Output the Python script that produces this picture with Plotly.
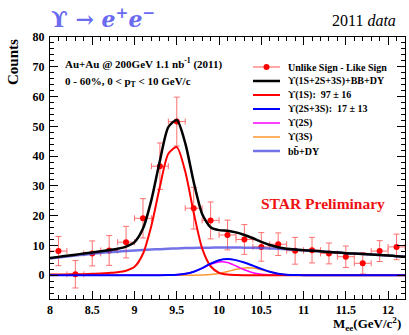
import plotly.graph_objects as go

# ---- measured dielectron spectrum (unlike sign - like sign), 0.2 GeV/c^2 bins ----
mass_bins = [8.1, 8.3, 8.5, 8.7, 8.9, 9.1, 9.3, 9.5, 9.7, 9.9, 10.1,
             10.3, 10.5, 10.7, 10.9, 11.1, 11.3, 11.5, 11.7, 11.9, 12.1]
counts = [8.1, 0.3, 7.3, 8.3, 11.1, 19.1, 36.6, 51.6, 22.5, 18.4, 13.5,
          12.0, 9.5, 10.4, 8.2, 8.4, 7.3, 6.2, 4.0, 8.1, 9.5]
counts_err = [4.9, 4.6, 4.2, 5.0, 5.3, 6.6, 7.8, 8.2, 7.0, 6.2, 5.0,
              5.0, 4.8, 3.8, 4.5, 4.3, 3.5, 3.6, 3.6, 3.5, 4.3]
bin_half_width = 0.1

# ---- fit components sampled along the mass axis ----
fit_mass = [8.0, 8.1, 8.2, 8.3, 8.4, 8.5, 8.6, 8.7, 8.8, 8.9,
            9.0, 9.1, 9.2, 9.3, 9.4, 9.5, 9.6, 9.7, 9.8, 9.9,
            10.0, 10.1, 10.2, 10.3, 10.4, 10.5, 10.6, 10.7, 10.8, 10.9,
            11.0, 11.1, 11.2, 11.3, 11.4, 11.5, 11.6, 11.7, 11.8, 11.9,
            12.0, 12.1, 12.2]
fit_total = [5.8, 6.15, 6.55, 6.9, 7.25, 7.65, 8.0, 8.45, 8.9, 9.6,
             11.1, 15.65, 25.3, 38.45, 49.73, 52.13, 44.35, 31.32, 20.57, 16.12,
             15.14, 14.95, 14.39, 13.5, 12.4, 11.2, 10.15, 9.36, 8.88, 8.6,
             8.4, 8.2, 8.0, 7.8, 7.6, 7.4, 7.25, 7.1, 6.95, 6.8,
             6.6, 6.4, 6.2]
fit_1s = [0.2, 0.2, 0.25, 0.3, 0.35, 0.45, 0.55, 0.75, 1.0, 1.5,
          2.8, 7.2, 16.7, 29.7, 40.8, 43.0, 34.8, 21.0, 9.0, 3.0,
          0.8, 0.2, 0.05, 0, 0, 0, 0, 0, 0, 0,
          0, 0, 0, 0, 0, 0, 0, 0, 0, 0,
          0, 0, 0]
fit_2s3s = [0, 0, 0, 0, 0, 0, 0, 0, 0, 0,
            0, 0, 0, 0, 0.03, 0.13, 0.45, 1.17, 2.37, 3.87,
            5.04, 5.45, 5.06, 4.25, 3.2, 2.1, 1.15, 0.51, 0.18, 0.05,
            0, 0, 0, 0, 0, 0, 0, 0, 0, 0,
            0, 0, 0]
fit_2s = [0, 0, 0, 0, 0, 0, 0, 0, 0, 0,
          0, 0, 0, 0, 0.03, 0.13, 0.45, 1.15, 2.3, 3.65,
          4.45, 4.23, 3.1, 1.8, 0.81, 0.28, 0.08, 0.02, 0, 0,
          0, 0, 0, 0, 0, 0, 0, 0, 0, 0,
          0, 0, 0]
fit_3s = [0, 0, 0, 0, 0, 0, 0, 0, 0, 0,
          0, 0, 0, 0, 0, 0, 0, 0.015, 0.07, 0.22,
          0.59, 1.22, 1.96, 2.45, 2.39, 1.82, 1.07, 0.49, 0.18, 0.05,
          0, 0, 0, 0, 0, 0, 0, 0, 0, 0,
          0, 0, 0]
fit_bb_dy = [5.6, 5.95, 6.3, 6.6, 6.9, 7.2, 7.45, 7.7, 7.9, 8.1,
             8.3, 8.45, 8.6, 8.75, 8.9, 9.0, 9.1, 9.15, 9.2, 9.25,
             9.3, 9.3, 9.28, 9.25, 9.2, 9.1, 9.0, 8.85, 8.7, 8.55,
             8.4, 8.2, 8.0, 7.8, 7.6, 7.4, 7.25, 7.1, 6.95, 6.8,
             6.6, 6.4, 6.2]

legend_labels = [
    "Unlike Sign - Like Sign",
    "ϒ(1S+2S+3S)+BB+DY",
    "ϒ(1S):  97 ± 16",
    "ϒ(2S+3S):  17 ± 13",
    "ϒ(2S)",
    "ϒ(3S)",
    "bb\u0304+DY",
]

RED = "#ff0000"
ERR_RED = "#ff7070"
BLACK = "#000000"
BLUE = "#0000ff"
MAGENTA = "#ff00ff"
ORANGE = "#ff9933"
BKG = "rgba(80,80,225,0.8)"
legend_colors = [ERR_RED, BLACK, RED, BLUE, MAGENTA, ORANGE, BKG]
legend_widths = [1.2, 2.5, 2, 2, 1.5, 1.5, 2.5]

SERIF = "Liberation Serif"

fig = go.Figure()

fig.add_trace(go.Scatter(
    x=mass_bins, y=counts, mode="markers",
    marker=dict(color=RED, size=6),
    error_y=dict(type="data", array=counts_err, color=ERR_RED, thickness=1, width=3),
    error_x=dict(type="constant", value=bin_half_width, color=ERR_RED, thickness=1, width=3),
    showlegend=False,
))

curve_specs = [
    (fit_bb_dy, BKG, 2.5),
    (fit_3s, ORANGE, 1.5),
    (fit_2s, MAGENTA, 1.5),
    (fit_1s, RED, 2),
    (fit_2s3s, BLUE, 2),
    (fit_total, BLACK, 2.5),
]
for yvals, color, width in curve_specs:
    fig.add_trace(go.Scatter(
        x=fit_mass, y=yvals, mode="lines",
        line=dict(color=color, width=width, shape="spline", smoothing=0.7),
        showlegend=False, hoverinfo="skip",
    ))

# plot area in pixels: left 50, right 405, top 37, bottom 299
PL, PR, PT, PB = 50, 405, 37, 299


def px(xp):
    return (xp - PL) / (PR - PL)


def py(yp):
    return (PB - yp) / (PB - PT)


shapes = []
annotations = []

# hand-drawn legend box content
row_y = [67, 81, 95, 109, 123, 137, 151]
for label, color, width, yy in zip(legend_labels, legend_colors, legend_widths, row_y):
    shapes.append(dict(type="line", xref="paper", yref="paper",
                       x0=px(253), x1=px(280), y0=py(yy), y1=py(yy),
                       line=dict(color=color, width=width)))
    annotations.append(dict(text=label, xref="paper", yref="paper",
                            x=px(286), y=py(yy), xanchor="left", yanchor="middle",
                            showarrow=False,
                            font=dict(family=SERIF, size=10, color="black", weight="bold")))
shapes.append(dict(type="circle", xref="paper", yref="paper",
                   xsizemode="pixel", ysizemode="pixel",
                   xanchor=px(266.5), yanchor=py(row_y[0]),
                   x0=-3, x1=3, y0=-3, y1=3,
                   fillcolor=RED, line=dict(color=RED, width=0)))

text_font = dict(family=SERIF, size=11, color="black", weight="bold")
annotations += [
    dict(text="Au+Au @ 200GeV 1.1 nb<sup>-1</sup> (2011)", x=px(63), y=py(63),
         xanchor="left", yanchor="middle", font=text_font),
    dict(text="0 - 60%, 0 &lt; p<sub>T</sub> &lt; 10 GeV/c", x=px(63), y=py(82),
         xanchor="left", yanchor="middle", font=text_font),
    dict(text="STAR Preliminary", x=px(323), y=py(203), xanchor="center", yanchor="middle",
         font=dict(family=SERIF, size=15.5, color="#ee1111", weight="bold")),
    dict(text="ϒ → <i>e</i><sup>+</sup><i>e</i><sup>−</sup>", x=px(49), y=py(18),
         xanchor="left", yanchor="middle",
         font=dict(family="DejaVu Serif", size=22, color="#6b6bf0", weight="bold")),
    dict(text="2011 <i>data</i>", x=px(398), y=py(21), xanchor="right", yanchor="middle",
         font=dict(family=SERIF, size=16, color="black")),
    dict(text="Counts", x=px(13), y=py(37), xanchor="center", yanchor="top",
         textangle=-90, font=dict(family=SERIF, size=15, color="black", weight="bold")),
    dict(text="M<sub>ee</sub>(GeV/c<sup>2</sup>)", x=px(403), y=py(335),
         xanchor="right", yanchor="bottom",
         font=dict(family=SERIF, size=13, color="black", weight="bold")),
]
for a in annotations:
    a.setdefault("xref", "paper")
    a.setdefault("yref", "paper")
    a.setdefault("showarrow", False)

axis_common = dict(
    showline=True, linecolor="black", linewidth=1, mirror="ticks",
    ticks="inside", ticklen=8, tickwidth=1, tickcolor="black",
    showgrid=False, zeroline=False,
    tickfont=dict(family=SERIF, size=12, color="black", weight="bold"),
)

fig.update_layout(
    width=409, height=335,
    margin=dict(l=PL, r=409 - PR, t=PT, b=335 - PB),
    paper_bgcolor="white", plot_bgcolor="white",
    showlegend=False,
    xaxis=dict(range=[8, 12.2], tick0=8, dtick=0.5, ticklabelstandoff=0,
               minor=dict(ticks="inside", ticklen=4, dtick=0.1, tickcolor="black", showgrid=False),
               **axis_common),
    yaxis=dict(range=[-8, 80], tick0=0, dtick=10, ticklabelstandoff=2,
               minor=dict(ticks="inside", ticklen=4, dtick=2, tickcolor="black", showgrid=False),
               **axis_common),
    shapes=shapes,
    annotations=annotations,
)

fig.write_html("out.html")
